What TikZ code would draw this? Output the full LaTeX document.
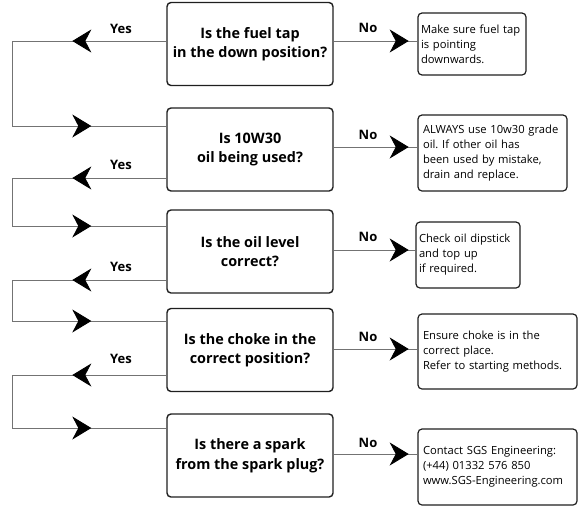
\documentclass[tikz,border=0pt]{standalone}
\usepackage{fontspec}
\setmainfont{Open Sans}
\usetikzlibrary{arrows.meta,decorations.markings,calc}
\newcommand\flowtip{\arrow{Stealth[length=19pt,width=23pt,inset=6pt,color=black]}}
\frenchspacing
\begin{document}
\begin{tikzpicture}[x=1pt,y=-1pt,
  qbox/.style={draw=black!88, line width=1.4pt, rounded corners=4pt, minimum width=166pt, minimum height=83pt, align=center, inner sep=0pt, font=\bfseries\fontsize{14.4}{19.5}\selectfont},
  abox/.style={draw=black!88, line width=1.2pt, rounded corners=4pt, inner xsep=5pt, inner ysep=0pt, align=left, font=\fontsize{11.2}{15}\selectfont},
  conn/.style={draw=black!55, line width=0.9pt},
  lbl/.style={font=\bfseries\fontsize{13}{15}\selectfont},
  twotips/.style 2 args={postaction={decorate}, decoration={markings, mark=at position #1 with {\flowtip}, mark=at position #2 with {\flowtip}}},
  onetip/.style={postaction={decorate}, decoration={markings, mark=at position #1 with {\flowtip}}},
]
\useasboundingbox (0,0) rectangle (580,507);

% questions
\node[qbox] (q1) at (250,44) {Is the fuel tap\\in the down position?};
\node[qbox] (q2) at (250,149.5) {Is 10W30\\oil being used?};
\node[qbox] (q3) at (250,251.5) {Is the oil level\\correct?};
\node[qbox] (q4) at (250,350) {Is the choke in the\\correct position?};
\node[qbox] (q5) at (250,455.5) {Is there a spark\\from the spark plug?};

% answers
\node[abox, inner xsep=3pt, text width=102pt, minimum height=62pt] (a1) at (472,44) {Make sure fuel tap\\is pointing\\downwards.};
\node[abox, text width=139pt, minimum height=76pt] (a2) at (492.5,153) {ALWAYS use 10w30 grade\\oil. If other oil has\\been used by mistake,\\drain and replace.};
\node[abox, inner xsep=3pt, text width=98pt, minimum height=66pt] (a3) at (468,255) {Check oil dipstick\\and top up\\if required.};
\node[abox, text width=149pt, minimum height=75pt] (a4) at (497.5,351.5) {Ensure choke is in the\\correct place.\\Refer to starting methods.};
\node[abox, text width=149pt, minimum height=76pt] (a5) at (497.5,467) {Contact SGS Engineering:\\(+44) 01332 576 850\\www.SGS-Engineering.com};

% yes connectors
\draw[conn, twotips={94pt}{318pt}] ([yshift=3pt]q1.west) -- ++(-154,0) |- ([yshift=23.5pt]q2.west);
\draw[conn, twotips={94pt}{281pt}] ([yshift=-28.5pt]q2.west) -- ++(-154,0) |- ([yshift=25.5pt]q3.west);
\draw[conn, twotips={94pt}{274pt}] ([yshift=-28.5pt]q3.west) -- ++(-154,0) |- ([yshift=29pt]q4.west);
\draw[conn, twotips={94pt}{286pt}] ([yshift=-25pt]q4.west) -- ++(-154,0) |- ([yshift=27.5pt]q5.west);

% no connectors
\draw[conn, onetip=75pt] ([yshift=3pt]q1.east) -- ([yshift=3pt]q1.east -| a1.west);
\draw[conn, onetip=75pt] ([yshift=2.5pt]q2.east) -- ([yshift=2.5pt]q2.east -| a2.west);
\draw[conn, onetip=75pt] ([yshift=1.5pt]q3.east) -- ([yshift=1.5pt]q3.east -| a3.west);
\draw[conn, onetip=75pt] ([yshift=1pt]q4.east) -- ([yshift=1pt]q4.east -| a4.west);
\draw[conn, onetip=75pt] ([yshift=1.5pt]q5.east) -- ([yshift=1.5pt]q5.east -| a5.west);

% labels
\node[lbl] (y1) at (121,29) {Yes};
\node[lbl] (y2) at (121,165) {Yes};
\node[lbl] (y3) at (121,267) {Yes};
\node[lbl] (y4) at (121,359) {Yes};
\node[lbl] (n1) at (368,28) {No};
\node[lbl] (n2) at (368,135) {No};
\node[lbl] (n3) at (368,237) {No};
\node[lbl] (n4) at (368,337) {No};
\node[lbl] (n5) at (368,443) {No};
\end{tikzpicture}
\end{document}
